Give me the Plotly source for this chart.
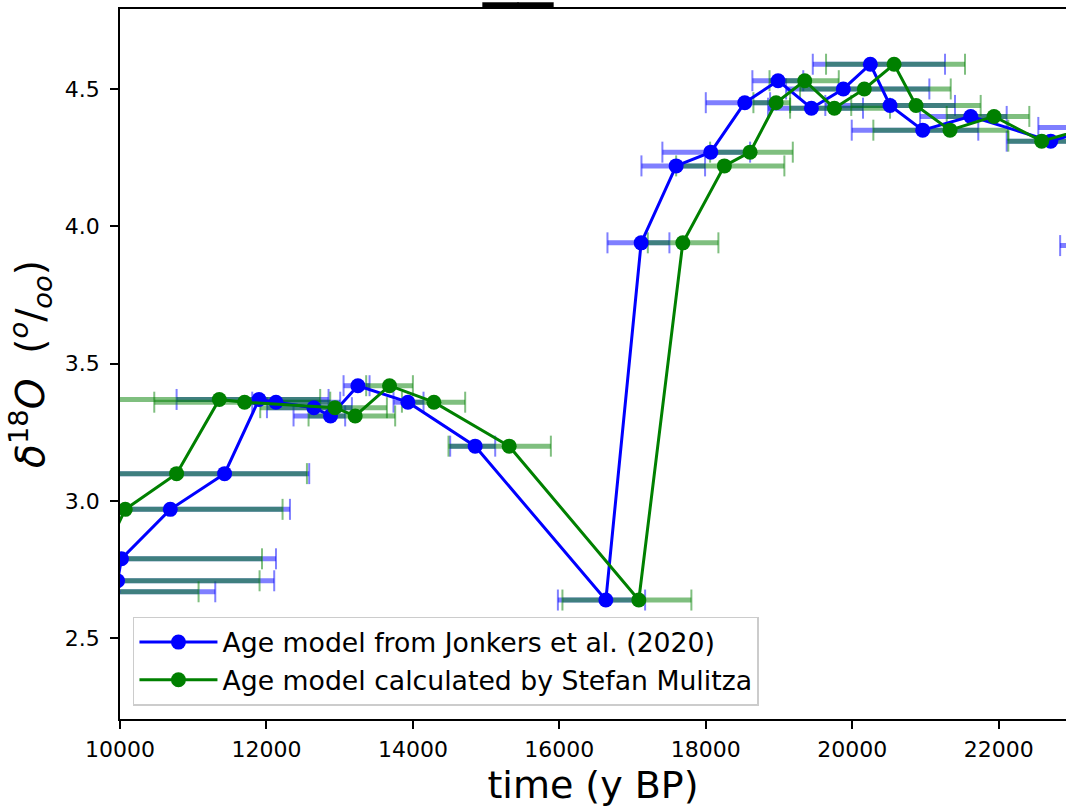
import plotly.graph_objects as go

# d18O values (same measurements, two age models)
d18o = [2.67, 2.71, 2.79, 2.97, 3.10, 3.37, 3.36, 3.34, 3.31, 3.42, 3.36, 3.20, 2.64,
        3.94, 4.22, 4.27, 4.45, 4.53, 4.43, 4.50, 4.59, 4.44, 4.35, 4.40, 4.31, 4.36, 3.93]

# Age model from Jonkers et al. (2020)
age_jonkers = [9900, 9967, 10020, 10687, 11428, 11898, 12130, 12648, 12875, 13249, 13932, 14850, 16635,
               17117, 17595, 18068, 18532, 18987, 19442, 19878, 20247, 20516, 20962, 21618, 22710, 23370, 23700]
lo_jonkers = [8500, 8300, 8400, 8800, 9200, 10773, 11806, 12007, 12370, 13053, 13735, 14509, 15980,
              16657, 17121, 17407, 18000, 18636, 18850, 19096, 19461, 19632, 19993, 20926, 22109, 22541, 22839]
hi_jonkers = [11301, 12106, 12130, 12321, 12584, 12848, 13007, 13167, 13075, 13408, 14145, 15124, 17171,
              17503, 17990, 18605, 18878, 19331, 20147, 21053, 21267, 21403, 21721, 22109, 23383, 24100, 24400]

# Age model calculated by Stefan Mulitza
age_mulitza = [9500, 9600, 9750, 10072, 10773, 11356, 11701, 12935, 13212, 13681, 14287, 15315, 17085,
               17686, 18254, 18605, 18960, 19351, 19756, 20165, 20571, 20871, 21335, 21936, 22587, 23250, 23550]
lo_mulitza = [8000, 8000, 8000, 8500, 9000, 9700, 10468, 11915, 12575, 13362, 13850, 14486, 16042,
              17208, 17595, 18059, 18650, 18870, 19151, 19287, 19642, 19986, 20288, 21290, 22131, 22950, 23000]
hi_mulitza = [11073, 11906, 11939, 12220, 12553, 12734, 12871, 13645, 13758, 14000, 14714, 15884, 17803,
              18172, 19073, 19188, 19151, 19816, 20516, 21345, 21540, 21754, 22131, 22418, 23150, 23700, 24000]

x_ticks = [10000, 12000, 14000, 16000, 18000, 20000, 22000]
y_ticks = [2.5, 3.0, 3.5, 4.0, 4.5]

series = [
    ("Age model from Jonkers et al. (2020)", age_jonkers, lo_jonkers, hi_jonkers, "#0000ff", "rgba(0,0,255,0.5)"),
    ("Age model calculated by Stefan Mulitza", age_mulitza, lo_mulitza, hi_mulitza, "#008000", "rgba(0,128,0,0.5)"),
]

fig = go.Figure()

for name, age, lo, hi, col, acol in series:
    fig.add_trace(go.Scatter(
        x=age, y=d18o, mode="markers", marker=dict(size=1, opacity=0),
        error_x=dict(type="data", symmetric=False,
                     array=[h - a for a, h in zip(age, hi)],
                     arrayminus=[a - l for a, l in zip(age, lo)],
                     color=acol, thickness=5, width=0),
        showlegend=False, hoverinfo="skip"))
    fig.add_trace(go.Scatter(
        x=lo + hi, y=d18o + d18o, mode="markers",
        marker=dict(symbol="line-ns", size=15, line=dict(width=2, color=acol)),
        showlegend=False, hoverinfo="skip"))

for i, (name, age, lo, hi, col, acol) in enumerate(series):
    fig.add_trace(go.Scatter(
        x=age, y=d18o, mode="lines+markers", name=name,
        line=dict(color=col, width=3), marker=dict(color=col, size=15),
        legendgroup=f"g{i}"))

axis_common = dict(ticks="outside", ticklen=8, tickwidth=1.5, tickcolor="black",
                   showline=True, linecolor="black", linewidth=1.5, automargin=False,
                   showgrid=False, zeroline=False, tickfont=dict(size=22, color="black"))

fig.update_layout(
    width=1066, height=807,
    margin=dict(l=120, r=0, t=9, b=88),
    plot_bgcolor="white", paper_bgcolor="white",
    font=dict(family="DejaVu Sans", color="black"),
    xaxis=dict(range=[10000, 22919], tickvals=x_ticks, ticktext=[str(v) for v in x_ticks],
               mirror=True, ticklabelstandoff=2,
               title=dict(text="time (y BP)", font=dict(size=38), standoff=10),
               **axis_common),
    yaxis=dict(range=[2.207, 4.791], tickvals=y_ticks, ticktext=[f"{v:.1f}" for v in y_ticks],
               ticklabelstandoff=6,
               title=dict(text="<i>δ</i><sup>18</sup><i>O</i>  (<sup><i>o</i></sup>/<sub><i>oo</i></sub>)",
                          font=dict(size=39), standoff=8),
               **axis_common),
    legend=dict(x=0.0137, y=0.0187, xanchor="left", yanchor="bottom",
                bgcolor="rgba(255,255,255,0.8)", bordercolor="#cccccc", borderwidth=1.5,
                font=dict(size=26.7), tracegroupgap=0, traceorder="grouped", itemwidth=78),
    annotations=[dict(text="__", xref="paper", yref="paper", x=0.4207, y=1.0,
                      xanchor="center", yanchor="bottom", yshift=-1, showarrow=False,
                      font=dict(size=70, color="black"))],
)

# remove the default page margin so the figure fills the window exactly
fig.write_html("out.html",
               config={"displayModeBar": False},
               post_script="document.body.style.margin='0';document.body.style.overflow='hidden';")
